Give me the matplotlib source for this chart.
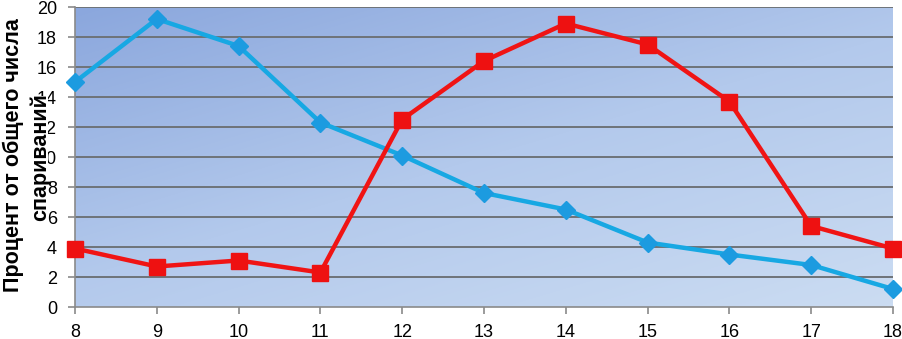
import numpy as np
import matplotlib.pyplot as plt
from matplotlib.colors import LinearSegmentedColormap

plt.rcParams['font.family'] = ['Liberation Sans', 'DejaVu Sans']

hours = [8, 9, 10, 11, 12, 13, 14, 15, 16, 17, 18]
blue_vals = [15.0, 19.2, 17.4, 12.3, 10.1, 7.6, 6.5, 4.3, 3.5, 2.8, 1.2]
red_vals = [3.9, 2.7, 3.1, 2.3, 12.5, 16.4, 18.9, 17.5, 13.7, 5.4, 3.9]
y_ticks = [0, 2, 4, 6, 8, 10, 12, 14, 16, 18, 20]
label_line1 = 'Процент от общего числа'
label_line2 = 'спариваний'

fig = plt.figure(figsize=(9.03, 3.39), dpi=100)
ax = fig.add_axes([75 / 903, 32 / 339, 818 / 903, 300 / 339])

# diagonal gradient background
gx, gy = np.meshgrid(np.linspace(0, 1, 200), np.linspace(1, 0, 100))
grad = (gx * 0.45 + (1 - gy) * 0.55)
cmap = LinearSegmentedColormap.from_list('bg', ['#8ba7dd', '#b3c9ec', '#cbdcf2'])
ax.imshow(grad, cmap=cmap, extent=[0, 1, 0, 1], transform=ax.transAxes,
          aspect='auto', zorder=0, interpolation='bilinear')

for t in y_ticks[1:]:
    ax.axhline(t, color='#6e7378', lw=1.4, zorder=1)

ax.plot(hours, blue_vals, color='#17a8e3', lw=3.2, marker='D', markersize=9,
        markerfacecolor='#1c9be0', markeredgecolor='#1c9be0', zorder=3, clip_on=False)
ax.plot(hours, red_vals, color='#f01414', lw=3.2, marker='s', markersize=12,
        markerfacecolor='#ee1111', markeredgecolor='#ee1111', zorder=4, clip_on=False)

ax.set_xlim(8, 18)
ax.set_ylim(0, 20)
ax.set_xticks(hours)
ax.set_yticks(y_ticks)
ax.tick_params(axis='both', labelsize=13, length=5, color='#8a8a8a', width=1.2)
ax.tick_params(axis='x', pad=7)
ax.tick_params(axis='y', pad=8)
for s in ['top', 'right']:
    ax.spines[s].set_visible(False)
for s in ['left', 'bottom']:
    ax.spines[s].set_color('#8a8a8a')
    ax.spines[s].set_linewidth(1.2)

# two-line axis title, the second line sits over the tick labels like in the original
fig.text(13 / 903, 1 - 155 / 339, label_line1, rotation=90, ha='center', va='center',
         fontsize=15.5, fontweight='bold', zorder=10)
fig.text(40 / 903, 1 - 157 / 339, label_line2, rotation=90, ha='center', va='center',
         fontsize=15.5, fontweight='bold', zorder=10,
         bbox=dict(facecolor='white', edgecolor='none', boxstyle='square,pad=-0.12'))

fig.savefig('out.png', dpi=100)
